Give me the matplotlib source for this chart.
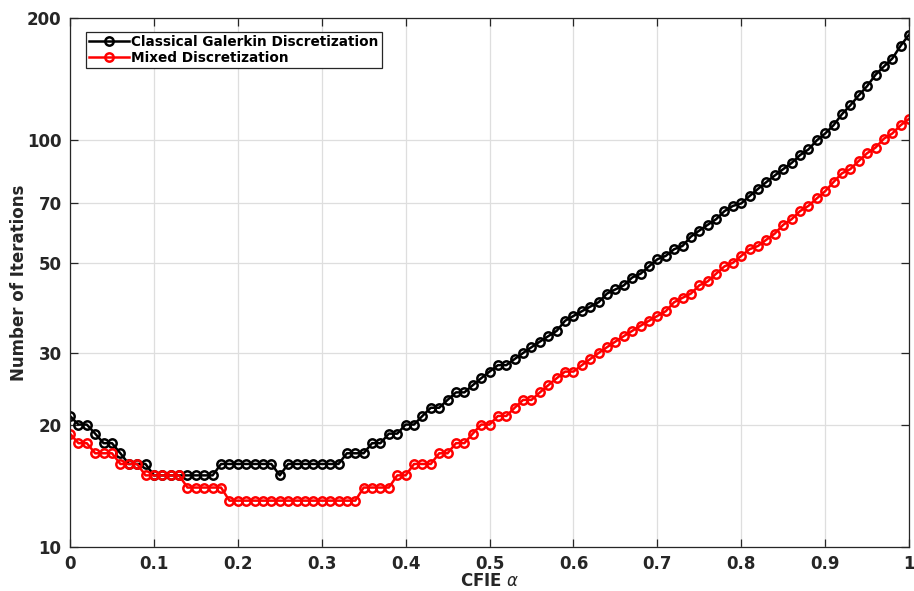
import numpy as np
import matplotlib.pyplot as plt
from matplotlib.ticker import FixedLocator, NullLocator

# CFIE alpha from 0 to 1 in steps of 0.01
alpha = np.round(np.arange(0, 1.0001, 0.01), 2)

galerkin = [21, 20, 20, 19, 18, 18, 17, 16, 16, 16,
            15, 15, 15, 15, 15, 15, 15, 15, 16, 16,
            16, 16, 16, 16, 16, 15, 16, 16, 16, 16,
            16, 16, 16, 17, 17, 17, 18, 18, 19, 19,
            20, 20, 21, 22, 22, 23, 24, 24, 25, 26,
            27, 28, 28, 29, 30, 31, 32, 33, 34, 36,
            37, 38, 39, 40, 42, 43, 44, 46, 47, 49,
            51, 52, 54, 55, 58, 60, 62, 64, 67, 69,
            70, 73, 76, 79, 82, 85, 88, 92, 95, 100,
            104, 109, 116, 122, 129, 136, 145, 152, 159, 171,
            182]

mixed = [19, 18, 18, 17, 17, 17, 16, 16, 16, 15,
         15, 15, 15, 15, 14, 14, 14, 14, 14, 13,
         13, 13, 13, 13, 13, 13, 13, 13, 13, 13,
         13, 13, 13, 13, 13, 14, 14, 14, 14, 15,
         15, 16, 16, 16, 17, 17, 18, 18, 19, 20,
         20, 21, 21, 22, 23, 23, 24, 25, 26, 27,
         27, 28, 29, 30, 31, 32, 33, 34, 35, 36,
         37, 38, 40, 41, 42, 44, 45, 47, 49, 50,
         52, 54, 55, 57, 59, 62, 64, 67, 69, 72,
         75, 79, 83, 85, 89, 93, 96, 101, 104, 109,
         113]

xticks = [0, 0.1, 0.2, 0.3, 0.4, 0.5, 0.6, 0.7, 0.8, 0.9, 1]
xticklabels = ['0', '0.1', '0.2', '0.3', '0.4', '0.5', '0.6', '0.7', '0.8', '0.9', '1']
yticks = [10, 20, 30, 50, 70, 100, 200]

dark = '#262626'
fig = plt.figure(figsize=(9.14, 5.91), dpi=100)
ax = fig.add_axes([0.0766, 0.0745, 0.918, 0.895])

ax.plot(alpha, galerkin, 'o-', color='black', lw=1.8, ms=6, mew=1.8,
        mfc='none', label='Classical Galerkin Discretization')
ax.plot(alpha, mixed, 'o-', color='red', lw=1.8, ms=6, mew=1.8,
        mfc='none', label='Mixed Discretization')

ax.set_yscale('log')
ax.set_xlim(0, 1)
ax.set_ylim(10, 200)
ax.yaxis.set_major_locator(FixedLocator(yticks))
ax.yaxis.set_minor_locator(NullLocator())
ax.set_yticks(yticks)
ax.set_yticklabels([str(v) for v in yticks])
ax.set_xticks(xticks)
ax.set_xticklabels(xticklabels)

ax.grid(True, color='#dedede', lw=0.9)
ax.set_axisbelow(True)
ax.tick_params(direction='in', top=True, right=True, length=6, width=0.9,
               colors=dark, labelsize=12, pad=6)
for lab in ax.get_xticklabels() + ax.get_yticklabels():
    lab.set_fontweight('bold')
for sp in ax.spines.values():
    sp.set_color(dark)
    sp.set_linewidth(0.9)

ax.set_xlabel(r'CFIE $\alpha$', fontsize=12, fontweight='bold', color=dark, labelpad=-1)
ax.set_ylabel('Number of Iterations', fontsize=12, fontweight='bold', color=dark, labelpad=-1)

leg = ax.legend(loc='upper left', bbox_to_anchor=(0.014, 0.982), fancybox=False,
                edgecolor=dark, framealpha=1, handlelength=2.9, handletextpad=0.2,
                borderpad=0.25, labelspacing=0.15, borderaxespad=0.3,
                prop={'weight': 'bold', 'size': 9.8})
leg.get_frame().set_linewidth(0.9)

fig.savefig('out.png', dpi=100)
